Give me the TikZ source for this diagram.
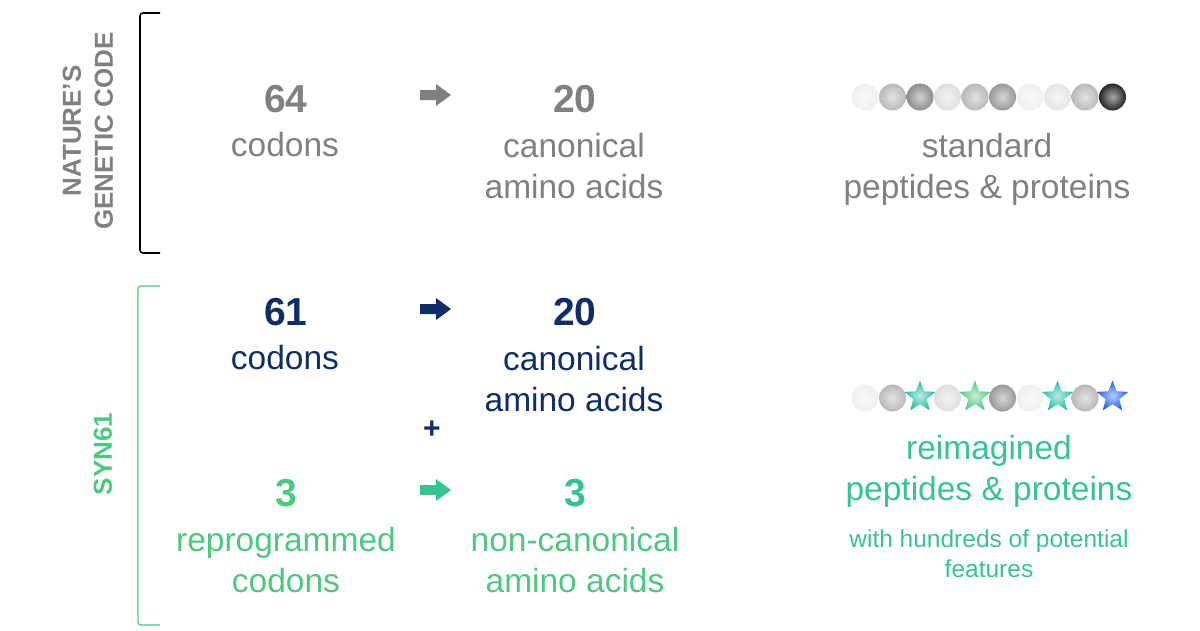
\documentclass[tikz,border=0pt]{standalone}
\usepackage{fontspec}
\setmainfont{Liberation Sans}
\usetikzlibrary{shapes.geometric}
\definecolor{gry}{HTML}{808080}
\definecolor{navy}{HTML}{0F2D66}
\definecolor{grn}{HTML}{4DC97F}
\definecolor{teal}{HTML}{1FBFA0}
\definecolor{blu}{HTML}{1E5CF0}
\colorlet{g1}{gray!12}
\colorlet{g2}{gray!25}
\colorlet{g3}{gray!55}
\colorlet{g4}{gray!80}
\colorlet{g5}{gray!90}
\colorlet{g6}{black!85}
\colorlet{g7}{gray!20}
\begin{document}
\begin{tikzpicture}[x=1pt,y=-1pt,
 big/.style={font=\fontsize{39}{40}\selectfont\bfseries},
 txt/.style={font=\fontsize{33.5}{41}\selectfont,align=center},
 sml/.style={font=\fontsize{24.5}{30}\selectfont,align=center},
 blk/.style={fill=#1,draw=none},
 bead/.style={circle,minimum size=27pt,inner sep=0pt,inner color=#1!40!white,outer color=#1},
 stardot/.style={star,star points=5,star point ratio=2.3,minimum size=33pt,inner sep=0pt,inner color=#1!30!white,outer color=#1}]
\useasboundingbox (0,0) rectangle (1200,630);
\newcommand{\blkarrow}[3]{\path[blk=#3] (#1-16,#2-5) -- (#1,#2-5) -- (#1,#2-11) -- (#1+15,#2) -- (#1,#2+11) -- (#1,#2+5) -- (#1-16,#2+5) -- cycle;}
% brackets
\draw[line width=1.6pt,rounded corners=3pt] (160,13) -- (140,13) -- (140,253) -- (160,253);
\draw[grn,line width=1.3pt,rounded corners=3pt] (160,286) -- (138,286) -- (138,625) -- (160,625);
\node[rotate=90,gry,font=\fontsize{26}{32}\selectfont\bfseries,align=center] (nat) at (88,131) {NATURE’S\\GENETIC CODE};
\node[rotate=90,grn,font=\fontsize{26}{32}\selectfont\bfseries] (syn) at (103,454) {SYN61};
% top row
\node[big,gry] (n64) at (286,99) {64};
\node[txt,gry] (c64) at (285,145) {codons};
\blkarrow{436}{95}{gry}
\node[big,gry] (n20) at (575,99) {20};
\node[txt,gry] (c20) at (574,166) {canonical\\amino acids};
\node[txt,gry] (std) at (987,169) {standard\\peptides \& proteins};
% middle
\node[big,navy] (n61) at (286,312) {61};
\node[txt,navy] (c61) at (285,358) {codons};
\blkarrow{436}{309}{navy}
\node[big,navy] (n20b) at (575,312) {20};
\node[txt,navy] (c20b) at (574,379) {canonical\\amino acids};
\node[navy,font=\fontsize{30}{30}\selectfont\bfseries] (plus) at (432,430) {+};
% bottom
\node[big,grn] (n3) at (286,493) {3};
\node[txt,grn] (c3) at (286,560) {reprogrammed\\codons};
\blkarrow{436}{490}{teal!50!grn}
\node[big,teal!60!grn] (n3b) at (575,493) {3};
\node[txt,grn] (c3b) at (575,560) {non-canonical\\amino acids};
\node[txt,teal!50!grn] (re) at (989,471) {reimagined\\peptides \& proteins};
\node[sml,teal!50!grn] (hund) at (989,554) {with hundreds of potential\\features};
% top beads
\foreach \i/\c in {0/g1,1/g3,2/g5,3/g2,4/g3,5/g4,6/g1,7/g7,8/g3,9/g6}
  \node[bead=\c] (b\i) at (865+27.5*\i,97) {};
% bottom beads
\node[bead=g1] (s0) at (865,398) {};
\node[bead=g3] (s1) at (892.5,398) {};
\node[stardot=teal] (s2) at (920,397) {};
\node[bead=g2] (s3) at (947.5,398) {};
\node[stardot=grn] (s4) at (975,397) {};
\node[bead=g4] (s5) at (1002.5,398) {};
\node[bead=g1] (s6) at (1030,398) {};
\node[stardot=teal] (s7) at (1057.5,397) {};
\node[bead=g3] (s8) at (1085,398) {};
\node[stardot=blu] (s9) at (1112.5,397) {};
\end{tikzpicture}
\end{document}
